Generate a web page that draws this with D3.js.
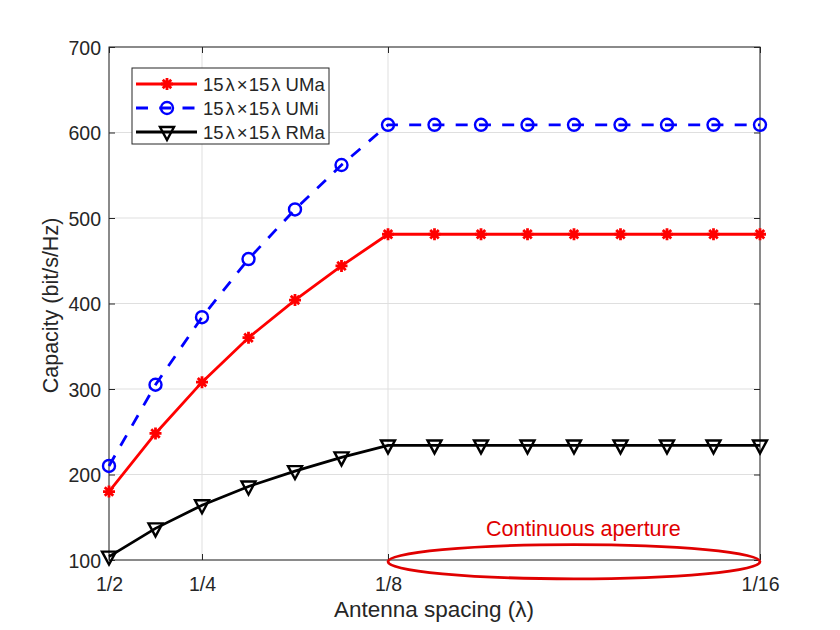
<!DOCTYPE html>
<html>
<head>
<meta charset="utf-8">
<script src="https://cdn.jsdelivr.net/npm/d3@7"></script>
<style>
  body { margin: 0; background: #fff; }
  text { font-family: "Liberation Sans", Arial, sans-serif; fill: #262626; }
</style>
</head>
<body>
<div id="chart"></div>
<script>
const W = 840, H = 630;
const M = {left: 109, right: 80, top: 47, bottom: 70};

// inverse spacing 1/d (in units of lambda)
const invSpacing = [2, 3, 4, 5, 6, 7, 8, 9, 10, 11, 12, 13, 14, 15, 16];
const umaValues = [180, 248, 308, 360, 404, 444, 481, 481, 481, 481, 481, 481, 481, 481, 481];
const umiValues = [210, 305, 384, 452, 510, 562, 609, 609, 609, 609, 609, 609, 609, 609, 609];
const rmaValues = [104, 137, 164, 186, 204, 220, 234, 234, 234, 234, 234, 234, 234, 234, 234];
const seriesNames = ["UMa", "UMi", "RMa"];

const xTicks = [2, 4, 8, 16];
const xTickLabels = ["1/2", "1/4", "1/8", "1/16"];
const yTicks = [100, 200, 300, 400, 500, 600, 700];

// ellipse marking the continuous aperture region
const apertureX = [8, 16];
const apertureY = 98;
const apertureRy = 20;
const apertureLabel = "Continuous aperture";
const apertureLabelPos = [12.2, 128];

const width = W - M.left - M.right;   // 651
const height = H - M.top - M.bottom;  // 513

const svg = d3.select("#chart").append("svg")
  .attr("width", W).attr("height", H);

const x = d3.scaleLinear().domain([2, 16]).range([M.left, M.left + width]);
const y = d3.scaleLinear().domain([100, 700]).range([M.top + height, M.top]);

// grid
svg.append("g").selectAll("line").data(xTicks).enter().append("line")
  .attr("x1", d => x(d)).attr("x2", d => x(d))
  .attr("y1", M.top).attr("y2", M.top + height)
  .attr("stroke", "#dfdfdf").attr("stroke-width", 1);
svg.append("g").selectAll("line").data(yTicks).enter().append("line")
  .attr("x1", M.left).attr("x2", M.left + width)
  .attr("y1", d => y(d)).attr("y2", d => y(d))
  .attr("stroke", "#dfdfdf").attr("stroke-width", 1);

// axes (MATLAB style inward ticks)
const xAxis = d3.axisBottom(x).tickValues(xTicks).tickSize(-6)
  .tickFormat((d, i) => xTickLabels[i]);
const xAxisTop = d3.axisTop(x).tickValues(xTicks).tickSize(-6).tickFormat("");
const yAxis = d3.axisLeft(y).tickValues(yTicks).tickSize(-6);
const yAxisRight = d3.axisRight(y).tickValues(yTicks).tickSize(-6).tickFormat("");

function styleAxis(g) {
  g.select(".domain").remove();
  g.selectAll(".tick line").attr("stroke", "#262626");
  g.selectAll(".tick text").attr("fill", "#262626")
    .style("font-family", "'Liberation Sans', Arial, sans-serif")
    .style("font-size", "19.5px");
}

svg.append("g").attr("transform", `translate(0,${M.top + height})`).call(xAxis)
  .call(styleAxis)
  .call(g => g.selectAll(".tick text").attr("y", 0).attr("dy", "31px"));
svg.append("g").attr("transform", `translate(0,${M.top})`).call(xAxisTop).call(styleAxis);
svg.append("g").attr("transform", `translate(${M.left},0)`).call(yAxis)
  .call(styleAxis)
  .call(g => g.selectAll(".tick text").attr("x", -8).attr("dy", "0.36em"));
svg.append("g").attr("transform", `translate(${M.left + width},0)`).call(yAxisRight).call(styleAxis);

// box
svg.append("rect")
  .attr("x", M.left).attr("y", M.top).attr("width", width).attr("height", height)
  .attr("fill", "none").attr("stroke", "#262626").attr("stroke-width", 1);

// axis labels
svg.append("text")
  .attr("x", 434).attr("y", 617)
  .attr("text-anchor", "middle").style("font-size", "22.5px")
  .text("Antenna spacing (λ)");
svg.append("text")
  .attr("transform", `translate(58,${y(400) + 2}) rotate(-90)`)
  .attr("text-anchor", "middle").style("font-size", "21.5px")
  .text("Capacity (bit/s/Hz)");

// markers
function asteriskPath(r) {
  const d = r * Math.SQRT1_2;
  return `M${-r},0L${r},0M0,${-r}L0,${r}M${-d},${-d}L${d},${d}M${-d},${d}L${d},${-d}`;
}
function triPath() {
  return "M-7,-5L7,-5L0,8Z";
}

const series = [
  {name: seriesNames[0], values: umaValues, color: "#ff0000", dash: null, marker: "star"},
  {name: seriesNames[1], values: umiValues, color: "#0000ff", dash: "12,11.25", marker: "circle"},
  {name: seriesNames[2], values: rmaValues, color: "#000000", dash: null, marker: "tri"}
];

const line = d3.line().x(d => x(d[0])).y(d => y(d[1]));

function drawMarker(g, kind, color) {
  if (kind === "circle") {
    g.append("circle").attr("r", 6).attr("fill", "none")
      .attr("stroke", color).attr("stroke-width", 2.4);
  } else if (kind === "star") {
    g.append("path").attr("d", asteriskPath(6)).attr("fill", "none")
      .attr("stroke", color).attr("stroke-width", 2.8);
  } else {
    g.append("path").attr("d", triPath()).attr("fill", "none")
      .attr("stroke", color).attr("stroke-width", 2.4).attr("stroke-linejoin", "miter");
  }
}

series.forEach(s => {
  const pts = invSpacing.map((v, i) => [v, s.values[i]]);
  svg.append("path").datum(pts)
    .attr("d", line).attr("fill", "none")
    .attr("stroke", s.color).attr("stroke-width", 2.8)
    .attr("stroke-dasharray", s.dash);
  const mg = svg.append("g").selectAll("g").data(pts).enter().append("g")
    .attr("transform", d => `translate(${x(d[0])},${y(d[1])})`);
  mg.each(function() { drawMarker(d3.select(this), s.marker, s.color); });
});

// continuous aperture annotation
const ex1 = x(apertureX[0]), ex2 = x(apertureX[1]);
svg.append("ellipse")
  .attr("cx", (ex1 + ex2) / 2).attr("cy", y(apertureY))
  .attr("rx", (ex2 - ex1) / 2).attr("ry", y(100) - y(100 + apertureRy))
  .attr("fill", "none").attr("stroke", "#e00000").attr("stroke-width", 2.8);
svg.append("text")
  .attr("x", x(apertureLabelPos[0])).attr("y", y(apertureLabelPos[1]))
  .attr("text-anchor", "middle")
  .style("font-size", "21.5px").style("fill", "#e00000")
  .text(apertureLabel);

// legend
const lg = svg.append("g").attr("transform", "translate(132,68)");
lg.append("rect").attr("width", 197).attr("height", 76)
  .attr("fill", "#fff").attr("stroke", "#262626").attr("stroke-width", 1);
series.forEach((s, i) => {
  const row = lg.append("g").attr("transform", `translate(0,${16 + i * 24})`);
  row.append("line").attr("x1", 4).attr("x2", 65).attr("y1", 0).attr("y2", 0)
    .attr("stroke", s.color).attr("stroke-width", 2.8)
    .attr("stroke-dasharray", s.dash ? "12,11.25" : null);
  const mk = row.append("g").attr("transform", "translate(35,0)");
  drawMarker(mk, s.marker, s.color);
  const t = row.append("text").attr("x", 71).attr("dy", "0.36em")
    .style("font-size", "18.5px");
  t.append("tspan").text("15");
  t.append("tspan").attr("dx", 2).text("λ");
  t.append("tspan").attr("dx", 2).text("×");
  t.append("tspan").attr("dx", 1).text("15");
  t.append("tspan").attr("dx", 2).text("λ");
  t.append("tspan").text(" " + s.name);
});
</script>
</body>
</html>
